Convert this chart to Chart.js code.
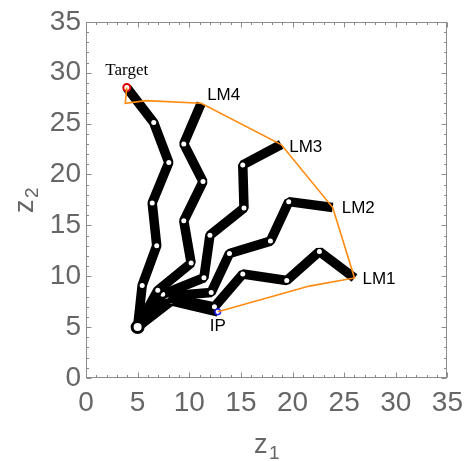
<!DOCTYPE html>
<html>
<head>
<meta charset="utf-8">
<script src="https://cdn.jsdelivr.net/npm/chart.js@4.4.0/dist/chart.umd.min.js"></script>
<style>
  html, body { margin: 0; padding: 0; background: #fff; }
  #wrap { width: 471px; height: 461px; }
</style>
</head>
<body>
<div id="wrap"><canvas id="myChart"></canvas></div>
<script>
'use strict';

// DATA
let tickValues = [0, 5, 10, 15, 20, 25, 30, 35];

let startPoint = [5, 5];

let targetPathX = [5, 5.44, 6.85, 6.41, 8.02, 6.56, 3.95];
let targetPathY = [5, 9.1, 13.0, 17.2, 21.17, 25.1, 28.54];
let lm4PathX = [5, 6.95, 10.18, 9.47, 11.33, 9.47, 11.15];
let lm4PathY = [5, 8.61, 11.29, 15.44, 19.3, 23.0, 26.99];
let lm3PathX = [5, 7.43, 11.42, 12.0, 15.3, 15.18, 18.9];
let lm3PathY = [5, 8.22, 9.85, 14.03, 16.7, 20.94, 22.94];
let lm2PathX = [5, 7.76, 12.12, 13.89, 17.86, 19.63, 23.89];
let lm2PathY = [5, 8.04, 8.4, 12.23, 13.45, 17.33, 16.75];
let lm1PathX = [5, 8.0, 12.44, 15.18, 19.44, 22.6, 26.0];
let lm1PathY = [5, 7.89, 6.99, 10.22, 9.58, 12.43, 9.83];
let ipPathX = [5, 8.26, 12.76];
let ipPathY = [5, 7.57, 6.5];

// orange outline through IP and the landmarks
let hullX = [12.76, 21.63, 26.0, 23.89, 18.9, 11.15, 5.83, 3.8, 3.95];
let hullY = [6.5, 9.03, 9.83, 16.75, 22.94, 26.99, 27.25, 27.0, 28.54];

let labelNames = ['Target', 'LM4', 'LM3', 'LM2', 'LM1', 'IP'];
let labelX = [3.95, 11.15, 18.9, 23.89, 26.0, 12.76];
let labelY = [28.54, 26.99, 22.94, 16.75, 9.83, 6.5];

// FUNCTIONS

function toPoints(xs, ys) {
  let pts = [];
  for (let i = 0; i < xs.length; i++) {
    pts.push({ x: xs[i], y: ys[i] });
  }
  return pts;
}

function pathDataset(xs, ys) {
  return {
    data: toPoints(xs, ys),
    showLine: true,
    borderColor: '#000',
    borderWidth: 9.5,
    borderJoinStyle: 'bevel',
    borderCapStyle: 'butt',
    pointRadius: function (ctx) {
      return (ctx.dataIndex === 0 || ctx.dataIndex === xs.length - 1) ? 0 : 2.5;
    },
    pointBackgroundColor: '#fff',
    pointBorderWidth: 0,
    order: 5
  };
}

// frame with inward ticks on all four sides (Mathematica style)
const framePlugin = {
  id: 'frame',
  afterDatasetsDraw(chart) {
    const ctx = chart.ctx;
    const a = chart.chartArea;
    const xs = chart.scales.x;
    const ys = chart.scales.y;
    ctx.save();
    ctx.strokeStyle = '#8c8c8c';
    ctx.lineWidth = 1;
    const L = Math.round(a.left) + 0.5, R = Math.round(a.right) - 0.5;
    const T = Math.round(a.top) + 0.5, B = Math.round(a.bottom) - 0.5;
    ctx.strokeRect(L, T, R - L, B - T);
    ctx.beginPath();
    for (let v = 0; v <= 35; v++) {
      const len = (v % 5 === 0) ? 5 : 2.5;
      const px = Math.round(xs.getPixelForValue(v)) + 0.5;
      ctx.moveTo(px, B); ctx.lineTo(px, B - len);
      ctx.moveTo(px, T); ctx.lineTo(px, T + len);
      const py = Math.round(ys.getPixelForValue(v)) + 0.5;
      ctx.moveTo(L, py); ctx.lineTo(L + len, py);
      ctx.moveTo(R, py); ctx.lineTo(R - len, py);
    }
    ctx.stroke();
    ctx.restore();
  }
};

const labelPlugin = {
  id: 'labels',
  afterDraw(chart) {
    const ctx = chart.ctx;
    const xs = chart.scales.x;
    const ys = chart.scales.y;
    // offsets in pixels from each anchor point
    const dx = [0, 6, 8, 9, 8, 0];
    const dy = [-13, -3, 7, 5, 6, 19];
    const align = ['center', 'left', 'left', 'left', 'left', 'center'];
    ctx.save();
    ctx.fillStyle = '#000';
    ctx.textBaseline = 'alphabetic';
    for (let i = 0; i < labelNames.length; i++) {
      ctx.font = i === 0 ? '17px "Liberation Serif"' : '17px "Liberation Sans"';
      ctx.textAlign = align[i];
      ctx.fillText(labelNames[i], xs.getPixelForValue(labelX[i]) + dx[i], ys.getPixelForValue(labelY[i]) + dy[i]);
    }

    // axis titles z1 / z2
    ctx.fillStyle = '#666';
    ctx.textAlign = 'left';
    ctx.font = '27px "Liberation Sans"';
    ctx.fillText('z', 254, 453);
    ctx.font = '19px "Liberation Sans"';
    ctx.fillText('1', 269, 459);

    ctx.translate(33, 213);
    ctx.rotate(-Math.PI / 2);
    ctx.font = '27px "Liberation Sans"';
    ctx.fillText('z', 0, 0);
    ctx.font = '19px "Liberation Sans"';
    ctx.fillText('2', 15, 5);
    ctx.restore();
  }
};

// EXECUTABLE CODE

const tickFont = { family: '"Liberation Sans", Arial, sans-serif', size: 28 };

const data = {
  datasets: [
    {
      data: toPoints(hullX, hullY),
      showLine: true,
      borderColor: '#ff8a10',
      borderWidth: 1.6,
      pointRadius: 0,
      order: 0
    },
    {
      data: [{ x: labelX[0], y: labelY[0] }],
      pointRadius: 3.5,
      pointBorderWidth: 2,
      pointBorderColor: '#e00000',
      pointBackgroundColor: '#fff',
      order: 1
    },
    {
      data: [{ x: labelX[5], y: labelY[5] }],
      pointRadius: 2.8,
      pointBorderWidth: 1.5,
      pointBorderColor: '#2020ff',
      pointBackgroundColor: '#fff',
      order: 1
    },
    {
      data: [{ x: startPoint[0], y: startPoint[1] }],
      pointRadius: 5.5,
      pointBorderWidth: 3,
      pointBorderColor: '#000',
      pointBackgroundColor: '#fff',
      order: 2
    },
    pathDataset(targetPathX, targetPathY),
    pathDataset(lm4PathX, lm4PathY),
    pathDataset(lm3PathX, lm3PathY),
    pathDataset(lm2PathX, lm2PathY),
    pathDataset(lm1PathX, lm1PathY),
    pathDataset(ipPathX, ipPathY)
  ]
};

const config = {
  type: 'scatter',
  data: data,
  options: {
    responsive: true,
    maintainAspectRatio: false,
    animation: false,
    events: [],
    layout: { padding: { top: 17, right: 23, left: 0, bottom: 0 } },
    plugins: {
      legend: { display: false },
      tooltip: { enabled: false }
    },
    scales: {
      x: {
        type: 'linear',
        min: 0,
        max: 35,
        afterBuildTicks: function (scale) {
          scale.ticks = tickValues.map(v => ({ value: v }));
        },
        afterFit: function (scale) { scale.height = 83; },
        grid: { display: false, drawTicks: false },
        border: { display: false },
        ticks: { font: tickFont, color: '#666', padding: 8, maxRotation: 0 }
      },
      y: {
        type: 'linear',
        min: 0,
        max: 35,
        afterBuildTicks: function (scale) {
          scale.ticks = tickValues.map(v => ({ value: v }));
        },
        afterFit: function (scale) { scale.width = 86; },
        grid: { display: false, drawTicks: false },
        border: { display: false },
        ticks: { font: tickFont, color: '#666', padding: 5 }
      }
    }
  },
  plugins: [framePlugin, labelPlugin]
};

const myChart = new Chart(document.getElementById('myChart'), config);
</script>
</body>
</html>
